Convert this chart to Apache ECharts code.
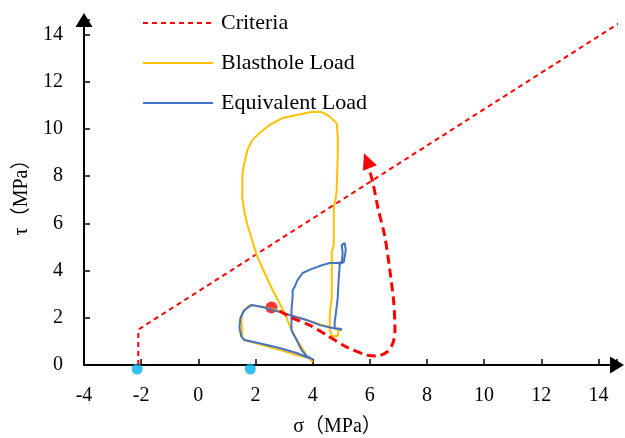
<!DOCTYPE html>
<html>
<head>
<meta charset="utf-8">
<script src="https://cdn.jsdelivr.net/npm/echarts@6/dist/echarts.min.js"></script>
<style>
  html, body { margin: 0; padding: 0; background: #fff; }
  #main { width: 625px; height: 438px; }
</style>
</head>
<body>
<div id="main"></div>
<script>
// strength criteria (dashed red)
const criteria = [[-2.1, 0], [-2.1, 1.5], [15, 14.7]];

// blasthole load stress path
const blasthole = [
  [1.79, 2.54], [1.54, 2.20], [1.51, 1.91], [1.54, 1.19], [1.61, 1.06], [2.25, 0.85],
  [2.84, 0.64], [3.44, 0.42], [3.89, 0.30], [4.00, 0.13], [3.82, 0.34], [3.61, 0.76],
  [3.30, 1.36], [3.02, 2.20], [2.84, 2.63], [2.60, 3.18], [2.32, 3.90], [2.04, 4.66],
  [1.86, 5.38], [1.72, 5.93], [1.61, 6.48], [1.54, 7.08], [1.54, 7.63], [1.54, 8.05],
  [1.61, 8.56], [1.72, 9.11], [1.89, 9.53], [2.14, 9.83], [2.49, 10.17], [2.95, 10.47],
  [3.44, 10.59], [3.96, 10.72], [4.32, 10.72], [4.53, 10.59], [4.84, 10.25], [4.88, 9.66],
  [4.88, 8.90], [4.84, 7.42], [4.81, 7.08], [4.74, 6.69], [4.74, 5.08], [4.67, 4.79],
  [4.67, 2.88], [4.60, 2.20], [4.60, 1.48], [4.67, 1.23], [4.88, 1.23], [4.91, 1.48],
  [4.60, 1.61], [4.35, 1.69], [3.79, 1.91], [3.19, 2.12], [2.74, 2.33], [2.25, 2.46],
  [1.79, 2.54]
];

// equivalent load stress path
const equivalent = [
  [5.02, 1.53], [4.70, 1.57], [4.25, 1.69], [3.79, 1.91], [3.30, 2.08], [2.84, 2.25],
  [2.25, 2.46], [1.86, 2.54], [1.61, 2.33], [1.47, 1.99], [1.44, 1.57], [1.51, 1.19],
  [1.61, 1.06], [2.25, 0.89], [2.84, 0.72], [3.44, 0.51], [3.79, 0.34], [4.00, 0.25],
  [3.79, 0.38], [3.61, 0.64], [3.44, 1.06], [3.26, 1.48], [3.26, 1.99], [3.26, 2.33],
  [3.30, 2.88], [3.30, 3.18], [3.37, 3.31], [3.47, 3.60], [3.65, 3.90], [3.89, 4.03],
  [4.14, 4.15], [4.35, 4.24], [4.60, 4.32], [4.88, 4.32], [5.02, 4.36], [5.05, 4.75],
  [5.02, 5.08], [5.12, 5.17], [5.16, 4.87], [5.12, 4.58], [5.09, 4.36], [4.95, 4.28],
  [4.91, 3.60], [4.88, 2.88], [4.84, 2.46], [4.77, 1.78], [4.77, 1.57], [5.02, 1.48]
];

// thick dashed trend arrow
const trend = [
  [2.84, 2.29], [3.30, 1.99], [3.89, 1.69], [4.49, 1.27], [5.19, 0.76], [5.89, 0.42],
  [6.25, 0.38], [6.60, 0.55], [6.81, 0.93], [6.88, 1.48], [6.84, 2.63], [6.70, 4.03],
  [6.53, 5.42], [6.28, 6.69], [6.11, 7.71], [5.90, 8.66]
];

const startPoint = [[2.56, 2.44]];
const axisPoints = [[-2.14, -0.17], [1.82, -0.17]];

const serif = "'Liberation Serif', 'Times New Roman', serif";
const nameFont = "'Liberation Serif', 'Noto Sans CJK SC', serif";

const chart = echarts.init(document.getElementById('main'));
const option = {
  animation: false,
  grid: { left: 84, right: 8, top: 20, bottom: 73, outerBoundsMode: 'none', containLabel: false },
  legend: {
    data: ['Criteria', 'Blasthole Load', 'Equivalent Load'],
    orient: 'vertical',
    left: 137,
    top: 7,
    itemWidth: 70,
    itemHeight: 14,
    itemGap: 18,
    itemStyle: { opacity: 0 },
    textStyle: { fontFamily: serif, fontSize: 22, color: '#000', padding: [0, 0, 0, 3] }
  },
  xAxis: {
    type: 'value',
    min: -4,
    max: 14.65,
    interval: 2,
    name: 'σ（MPa）',
    nameLocation: 'middle',
    nameGap: 52,
    nameTextStyle: { fontFamily: nameFont, fontSize: 20, color: '#000', padding: [0, 26, 0, 0] },
    splitLine: { show: false },
    axisLine: { onZero: false, lineStyle: { color: '#000', width: 2 }, symbol: ['none', 'triangle'], symbolSize: [17, 14] },
    axisTick: { inside: true, length: 6, lineStyle: { color: '#000', width: 1.5 } },
    axisLabel: { fontFamily: serif, fontSize: 20, color: '#000', margin: 21,
      formatter: v => (Number.isInteger(v) ? v : '') }
  },
  yAxis: {
    type: 'value',
    min: 0,
    max: 14.62,
    interval: 2,
    name: 'τ（MPa）',
    nameLocation: 'middle',
    nameGap: 50,
    nameTextStyle: { fontFamily: nameFont, fontSize: 20, color: '#000' },
    splitLine: { show: false },
    axisLine: { show: true, onZero: false, lineStyle: { color: '#000', width: 2 }, symbol: ['none', 'triangle'], symbolSize: [17, 14] },
    axisTick: { show: true, inside: true, length: 6, lineStyle: { color: '#000', width: 1.5 } },
    axisLabel: { fontFamily: serif, fontSize: 20, color: '#000', margin: 21,
      formatter: v => (Number.isInteger(v) ? v : '') }
  },
  series: [
    {
      name: 'Criteria', type: 'line', data: criteria, symbol: 'none', clip: false,
      lineStyle: { color: '#FF0000', width: 2, type: [5, 4] }, itemStyle: { color: '#FF0000' }
    },
    {
      name: 'Blasthole Load', type: 'line', data: blasthole, symbol: 'none',
      lineStyle: { color: '#FFC000', width: 2 }, itemStyle: { color: '#FFC000' }
    },
    {
      name: 'Equivalent Load', type: 'line', data: equivalent, symbol: 'none',
      lineStyle: { color: '#4472C4', width: 2 }, itemStyle: { color: '#4472C4' }
    },
    {
      name: 'trend', type: 'line', symbol: 'none', smooth: 0.3,
      data: trend.map((p, i) => i === trend.length - 1
        ? { value: p, symbol: 'triangle', symbolSize: [15, 16], symbolRotate: 22 }
        : p),
      lineStyle: { color: '#FF0000', width: 3, type: [9, 5] }, itemStyle: { color: '#FF0000' }
    },
    {
      name: 'start', type: 'scatter', data: startPoint, symbolSize: 12,
      itemStyle: { color: '#FF0000' }
    },
    {
      name: 'points', type: 'scatter', data: axisPoints, symbolSize: 11, clip: false,
      itemStyle: { color: '#00B0F0' }
    }
  ]
};
chart.setOption(option);
window.addEventListener('resize', () => chart.resize());
</script>
</body>
</html>
